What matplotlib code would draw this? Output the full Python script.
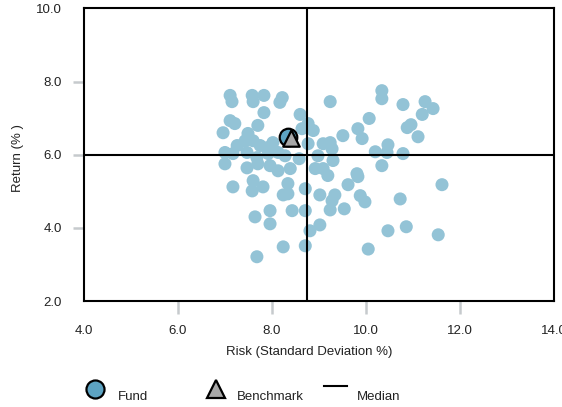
import matplotlib
matplotlib.use("Agg")
import matplotlib.pyplot as plt
from matplotlib.lines import Line2D

plt.rcParams['font.family'] = ['Liberation Sans', 'DejaVu Sans']

# Peer group: annualised risk (std dev %) and return (%)
peer_risk = [
    7.11, 7.15, 7.58, 7.60, 7.83, 8.22, 8.17, 7.83, 8.60, 7.11,
    7.21, 6.96, 7.70, 7.49, 7.43, 7.60, 7.75, 7.90, 8.02, 7.26,
    7.00, 7.17, 7.47, 7.68, 7.92, 8.13, 8.28, 8.58, 7.00, 7.47,
    7.70, 7.96, 8.13, 8.39, 7.17, 7.60, 7.58, 7.81, 8.34, 8.34,
    8.24, 7.96, 8.43, 7.64, 7.96, 8.24, 7.68, 8.77, 8.88, 8.64,
    9.24, 9.51, 9.83, 9.92, 8.77, 9.09, 9.24, 9.28, 8.98, 9.30,
    8.92, 9.09, 9.81, 10.07, 10.34, 10.34, 10.79, 11.26, 11.43, 11.20,
    10.88, 10.96, 11.11, 10.20, 10.47, 10.45, 10.79, 10.34, 9.19, 9.83,
    9.62, 8.71, 9.02, 9.34, 9.28, 9.24, 9.54, 9.88, 9.98, 10.73,
    11.62, 8.71, 9.02, 8.81, 8.71, 10.05, 10.47, 10.86, 11.54,
]
peer_return = [
    7.62, 7.45, 7.62, 7.45, 7.62, 7.56, 7.43, 7.15, 7.10, 6.93,
    6.85, 6.60, 6.80, 6.58, 6.38, 6.38, 6.25, 6.19, 6.33, 6.25,
    6.06, 6.03, 6.06, 5.92, 6.03, 6.06, 5.97, 5.89, 5.75, 5.64,
    5.75, 5.70, 5.56, 5.62, 5.12, 5.29, 5.01, 5.12, 5.21, 4.93,
    4.90, 4.47, 4.47, 4.30, 4.11, 3.48, 3.21, 6.85, 6.66, 6.71,
    7.45, 6.52, 6.71, 6.44, 6.30, 6.30, 6.33, 6.16, 5.97, 5.84,
    5.62, 5.62, 5.48, 6.99, 7.75, 7.53, 7.37, 7.45, 7.26, 7.10,
    6.74, 6.82, 6.49, 6.08, 6.27, 6.06, 6.03, 5.70, 5.43, 5.40,
    5.18, 5.07, 4.90, 4.90, 4.74, 4.49, 4.52, 4.88, 4.71, 4.79,
    5.18, 4.47, 4.08, 3.92, 3.51, 3.42, 3.92, 4.03, 3.81,
]

fund_risk, fund_return = 8.34, 6.47
bench_risk, bench_return = 8.41, 6.45
median_risk, median_return = 8.75, 5.98

x_ticks = [4.0, 6.0, 8.0, 10.0, 12.0, 14.0]
y_ticks = [2.0, 4.0, 6.0, 8.0, 10.0]
x_label = "Risk (Standard Deviation %)"
y_label = "Return (% )"
legend_labels = ["Fund", "Benchmark", "Median"]

peer_color = "#93c3d6"
fund_color = "#5da3c2"
bench_color = "#a8a8a8"
tick_color = "#c6cacd"
text_color = "#222222"

fig = plt.figure(figsize=(5.62, 4.07), dpi=100)
ax = fig.add_axes([0.1495, 0.2604, 0.8359, 0.7191])

ax.scatter(peer_risk, peer_return, s=88, c=peer_color, edgecolors="none", zorder=2)
ax.axvline(median_risk, color="black", lw=1.5, zorder=3)
ax.axhline(median_return, color="black", lw=1.5, zorder=3)
ax.scatter([fund_risk], [fund_return], s=160, c=fund_color, edgecolors="black",
           linewidths=1.6, zorder=4)
ax.scatter([bench_risk], [bench_return], s=140, marker="^", c=bench_color,
           edgecolors="black", linewidths=1.6, zorder=5)

ax.set_xlim(x_ticks[0], x_ticks[-1])
ax.set_ylim(y_ticks[0], y_ticks[-1])
ax.set_xticks(x_ticks)
ax.set_yticks(y_ticks)
ax.set_xticklabels([f"{v:.1f}" for v in x_ticks])
ax.set_yticklabels([f"{v:.1f}" for v in y_ticks])

for sp in ax.spines.values():
    sp.set_color("black")
    sp.set_linewidth(1.5)

ax.tick_params(axis="x", direction="out", length=9, width=1.8, color=tick_color,
               pad=8, labelsize=9.5, labelcolor=text_color)
ax.tick_params(axis="y", direction="out", length=8, width=1.8, color=tick_color,
               pad=8, labelsize=9.5, labelcolor=text_color)

# no tick marks at the frame corners
for ticks in (ax.xaxis.get_major_ticks(), ax.yaxis.get_major_ticks()):
    ticks[0].tick1line.set_visible(False)
    ticks[-1].tick1line.set_visible(False)

ax.set_xlabel(x_label, fontsize=9.5, color=text_color, va="center")
ax.xaxis.set_label_coords(0.48, -0.175)
ax.set_ylabel(y_label, fontsize=9.5, color=text_color, va="center")
ax.yaxis.set_label_coords(-0.140, 0.49)

# legend row along the bottom
ly_marker = 1 - 389 / 407
ly_text = 1 - 397 / 407
fig.add_artist(Line2D([95 / 562], [ly_marker], marker="o", markersize=13,
                      mfc=fund_color, mec="black", mew=1.6, ls="none",
                      transform=fig.transFigure))
fig.text(118 / 562, ly_text, legend_labels[0], fontsize=9.5, color=text_color, va="center")
fig.add_artist(Line2D([216 / 562], [ly_marker], marker="^", markersize=13,
                      mfc=bench_color, mec="black", mew=1.6, ls="none",
                      transform=fig.transFigure))
fig.text(237 / 562, ly_text, legend_labels[1], fontsize=9.5, color=text_color, va="center")
fig.add_artist(Line2D([324 / 562, 347 / 562], [1 - 386 / 407, 1 - 386 / 407],
                      color="black", lw=1.5, transform=fig.transFigure))
fig.text(357 / 562, ly_text, legend_labels[2], fontsize=9.5, color=text_color, va="center")

fig.savefig("out.png", dpi=100)
